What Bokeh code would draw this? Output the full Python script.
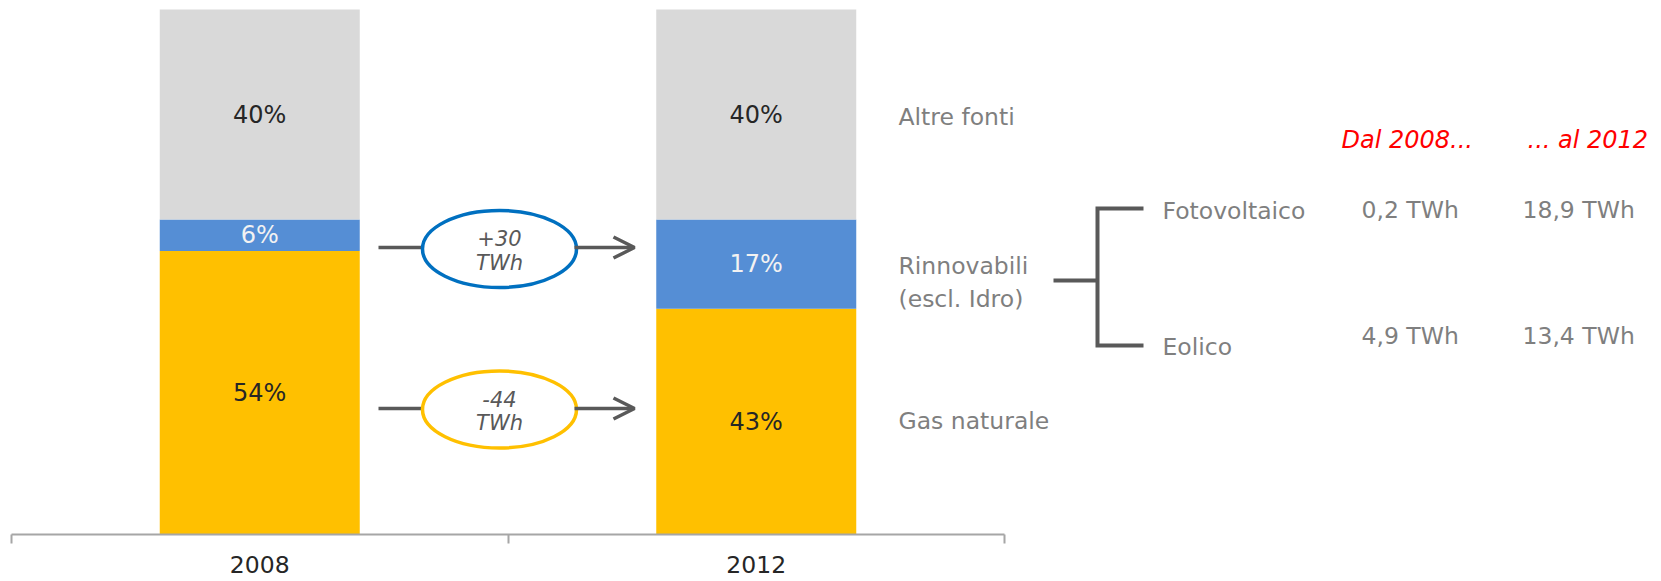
from bokeh.plotting import figure
from bokeh.models import Range1d, LinearAxis, FixedTicker, Arrow, OpenHead, Grid
from bokeh.core.properties import value
from bokeh.embed import file_html
from bokeh.resources import INLINE

# ---------------- data ----------------
years = ["2008", "2012"]
gas_naturale = [54, 43]
rinnovabili = [6, 17]
altre_fonti = [40, 40]
series_names = ["Gas naturale", "Rinnovabili", "(escl. Idro)", "Altre fonti"]
delta_top = ["+30", "-44"]
delta_unit = ["TWh", "TWh"]
sub_sources = ["Fotovoltaico", "Eolico"]
twh_2008 = ["0,2 TWh", "4,9 TWh"]
twh_2012 = ["18,9 TWh", "13,4 TWh"]
col_headers = ["Dal 2008...", "... al 2012"]

# ---------------- layout helpers (page pixels -> data) ----------------
FIG_W, FIG_H = 1661, 581
PX_PER_CAT = 496.5
PX_PER_PCT = 5.25
LEFT_PX, BASE_PX = 11, 534


def X(px):
    return (px - LEFT_PX) / PX_PER_CAT


def Y(py):
    return (BASE_PX - py) / PX_PER_PCT


FONT = value("DejaVu Sans")
GRAY_TXT = "#7f7f7f"
DARK = "#595959"
C_GAS, C_REN, C_ALT = "#ffc000", "#558ed5", "#d9d9d9"

p = figure(width=FIG_W, height=FIG_H,
           x_range=Range1d(0, (FIG_W - LEFT_PX) / PX_PER_CAT),
           y_range=Range1d(0, BASE_PX / PX_PER_PCT),
           x_axis_location=None, y_axis_location=None,
           output_backend="svg", toolbar_location=None,
           min_border_left=LEFT_PX, min_border_right=0, min_border_top=0,
           min_border_bottom=FIG_H - BASE_PX)
p.outline_line_color = None
p.background_fill_color = "white"
p.border_fill_color = "white"
for g in p.select(type=Grid):
    g.visible = False
p.xgrid.grid_line_color = None
p.ygrid.grid_line_color = None

# ---------------- bars ----------------
xs = [i + 0.5 for i in range(len(years))]
BAR_W = 200 / PX_PER_CAT
b0 = [0] * len(years)
t0 = gas_naturale
b1 = t0
t1 = [a + b for a, b in zip(b1, rinnovabili)]
b2 = t1
t2 = [a + b for a, b in zip(b2, altre_fonti)]

p.vbar(x=xs, bottom=b0, top=t0, width=BAR_W, fill_color=C_GAS, line_color=None)
p.vbar(x=xs, bottom=b1, top=t1, width=BAR_W, fill_color=C_REN, line_color=None)
p.vbar(x=xs, bottom=b2, top=t2, width=BAR_W, fill_color=C_ALT, line_color=None)

for bot, top, vals, col in [(b0, t0, gas_naturale, "#262626"),
                            (b1, t1, rinnovabili, "#f2f2f2"),
                            (b2, t2, altre_fonti, "#262626")]:
    p.text(x=xs, y=[(a + b) / 2 for a, b in zip(bot, top)],
           text=[f"{v}%" for v in vals], text_font=FONT, text_font_size="24px",
           text_color=col, text_align="center", text_baseline="middle")

# ---------------- axis ----------------
xaxis = LinearAxis(bounds=(0, len(years)),
                   ticker=FixedTicker(ticks=xs, minor_ticks=list(range(len(years) + 1))),
                   major_label_overrides={x: y for x, y in zip(xs, years)})
xaxis.axis_line_color = "#a6a6a6"
xaxis.axis_line_width = 2
xaxis.major_tick_line_color = None
xaxis.major_tick_out = 0
xaxis.major_tick_in = 0
xaxis.minor_tick_line_color = "#a6a6a6"
xaxis.minor_tick_line_width = 2
xaxis.minor_tick_out = 9
xaxis.minor_tick_in = 0
xaxis.major_label_text_font = "DejaVu Sans"
xaxis.major_label_text_font_size = "23.5px"
xaxis.major_label_text_color = "#262626"
xaxis.major_label_standoff = 12
p.add_layout(xaxis, "below")

# ---------------- series labels ----------------
p.text(x=[X(898)] * 4, y=[Y(420), Y(265), Y(298), Y(116)], text=series_names,
       text_font=FONT, text_font_size="23.5px", text_color=GRAY_TXT,
       text_align="left", text_baseline="middle")

# ---------------- delta arrows & ellipses ----------------
arrow_y = [Y(247), Y(408)]
ell_y = [Y(248.5), Y(409)]
ell_colors = ["#0070c0", "#ffc000"]
p.segment(x0=[X(378)] * 2, y0=arrow_y, x1=[X(424)] * 2, y1=arrow_y,
          line_color=DARK, line_width=3.5)
for ay in arrow_y:
    p.add_layout(Arrow(end=OpenHead(size=21, line_color=DARK, line_width=3.5),
                       x_start=X(574), y_start=ay, x_end=X(634), y_end=ay,
                       line_color=DARK, line_width=3.5))
p.ellipse(x=[X(499)] * 2, y=ell_y, width=154, height=77,
          width_units="screen", height_units="screen",
          fill_color="white", line_color=ell_colors, line_width=3.5)
p.text(x=[X(499)] * 2, y=[Y(237), Y(398)], text=delta_top, text_font=FONT,
       text_font_size="21px", text_font_style="italic", text_color=DARK,
       text_align="center", text_baseline="middle")
p.text(x=[X(499)] * 2, y=[Y(262), Y(422)], text=delta_unit, text_font=FONT,
       text_font_size="21px", text_font_style="italic", text_color=DARK,
       text_align="center", text_baseline="middle")

# ---------------- bracket & breakdown ----------------
p.multi_line(xs=[[X(1143), X(1097), X(1097), X(1143)], [X(1053), X(1097)]],
             ys=[[Y(208), Y(208), Y(345), Y(345)], [Y(280), Y(280)]],
             line_color=DARK, line_width=4, line_join="miter")
p.text(x=[X(1162)] * 2, y=[Y(210), Y(346)], text=sub_sources, text_font=FONT,
       text_font_size="23.5px", text_color=GRAY_TXT, text_align="left", text_baseline="middle")
p.text(x=[X(1361)] * 2, y=[Y(209), Y(335)], text=twh_2008, text_font=FONT,
       text_font_size="23.5px", text_color=GRAY_TXT, text_align="left", text_baseline="middle")
p.text(x=[X(1522)] * 2, y=[Y(209), Y(335)], text=twh_2012, text_font=FONT,
       text_font_size="23.5px", text_color=GRAY_TXT, text_align="left", text_baseline="middle")
p.text(x=[X(1341), X(1527)], y=[Y(139)] * 2, text=col_headers, text_font=FONT,
       text_font_size="24px", text_font_style="italic", text_color="#ff0000",
       text_align="left", text_baseline="middle")

open("out.html", "w").write(file_html(p, INLINE))
